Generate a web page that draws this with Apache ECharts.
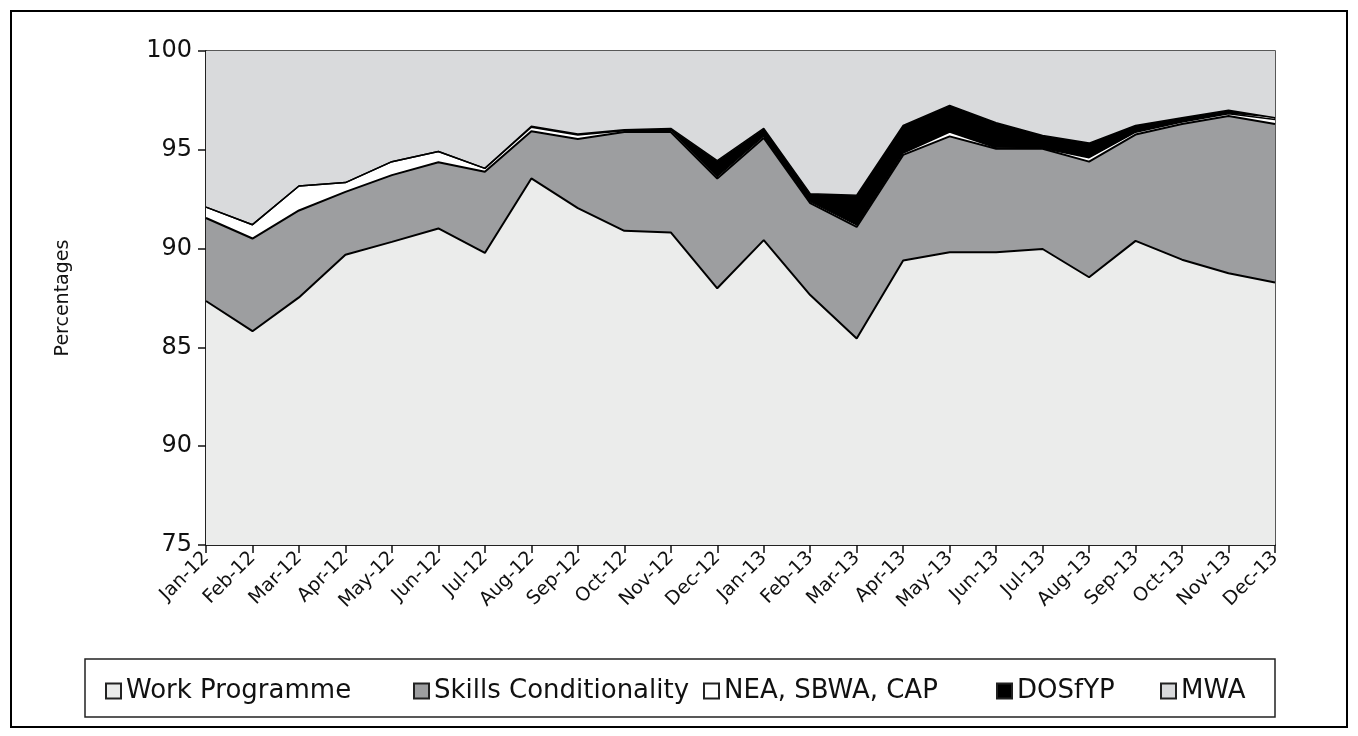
<!DOCTYPE html>
<html>
<head>
<meta charset="utf-8">
<title>Percentages by programme</title>
<script src="https://cdn.jsdelivr.net/npm/echarts@6/dist/echarts.min.js"></script>
<style>
  html, body { margin: 0; padding: 0; background: #fff; }
  #chart { width: 1358px; height: 736px; }
</style>
</head>
<body>
<div id="chart"></div>
<script>
// months on the x axis
var months = ['Jan-12', 'Feb-12', 'Mar-12', 'Apr-12', 'May-12', 'Jun-12', 'Jul-12', 'Aug-12',
  'Sep-12', 'Oct-12', 'Nov-12', 'Dec-12', 'Jan-13', 'Feb-13', 'Mar-13', 'Apr-13', 'May-13',
  'Jun-13', 'Jul-13', 'Aug-13', 'Sep-13', 'Oct-13', 'Nov-13', 'Dec-13']

// stacked percentages (each series is its own slice)
var workProgramme = [87.35, 85.82, 87.53, 89.69, 90.34, 91.02, 89.78, 93.55, 92.05, 90.9, 90.82, 87.99,
  90.43, 87.65, 85.45, 89.4, 89.81, 89.81, 89.98, 88.55, 90.39, 89.44, 88.75, 88.28]
var skills = [4.2, 4.69, 4.4, 3.18, 3.38, 3.35, 4.11, 2.39, 3.5, 5.0, 5.08, 5.56,
  5.17, 4.65, 5.65, 5.34, 5.87, 5.24, 5.07, 5.85, 5.38, 6.87, 7.96, 8.03]
var nea = [0.55, 0.7, 1.24, 0.47, 0.68, 0.54, 0.17, 0.2, 0.2, 0.07, 0.1, 0.1,
  0.1, 0.08, 0.1, 0.1, 0.22, 0.05, 0.03, 0.2, 0.12, 0.1, 0.12, 0.22]
var dosfyp = [0, 0, 0, 0, 0, 0, 0, 0.05, 0.05, 0.05, 0.08, 0.8,
  0.38, 0.4, 1.5, 1.39, 1.35, 1.27, 0.64, 0.74, 0.34, 0.21, 0.17, 0.09]
var mwa = [7.9, 8.79, 6.83, 6.66, 5.6, 5.09, 5.94, 3.81, 4.2, 3.98, 3.92, 5.55,
  3.92, 7.22, 7.3, 3.77, 2.75, 3.63, 4.28, 4.66, 3.77, 3.38, 3.0, 3.38]

// y tick labels as printed on the original (second one really reads 90)
var yTicks = [75, 80, 85, 90, 95, 100]
var yTickLabels = ['75', '90', '85', '90', '95', '100']

var seriesNames = ['Work Programme', 'Skills Conditionality', 'NEA, SBWA, CAP', 'DOSfYP', 'MWA']
var legendLeft = [100, 408, 698, 991, 1155]

var font = '"DejaVu Sans", "Open Sans", sans-serif'

function areaSeries(name, data, fill, lineWidth) {
  return {
    name: name,
    type: 'line',
    stack: 'total',
    data: data,
    symbol: 'none',
    smooth: false,
    lineStyle: { color: '#000', width: lineWidth },
    itemStyle: { color: fill, borderColor: '#222', borderWidth: 1 },
    areaStyle: { color: fill, opacity: 1 },
    animation: false
  }
}

// one legend per item so each sits where it does on the original
var legends = seriesNames.map(function (name, i) {
  return {
    data: [name],
    left: legendLeft[i],
    top: 673,
    icon: 'rect',
    itemWidth: 15,
    itemHeight: 15,
    textStyle: { fontSize: 26, color: '#111', fontFamily: font }
  }
})

var chart = echarts.init(document.getElementById('chart'))
chart.setOption({
  backgroundColor: '#fff',
  textStyle: { fontFamily: font },
  graphic: [
    {
      type: 'rect',
      shape: { x: 11, y: 11, width: 1336, height: 716 },
      style: { fill: 'none', stroke: '#000', lineWidth: 2 },
      z: 100
    },
    {
      type: 'rect',
      shape: { x: 85, y: 659, width: 1190, height: 58 },
      style: { fill: 'none', stroke: '#222', lineWidth: 1.5 },
      z: 100
    }
  ],
  grid: {
    left: 206,
    right: 83,
    top: 51,
    bottom: 191,
    show: true,
    borderColor: '#222',
    borderWidth: 1.5
  },
  legend: legends,
  xAxis: {
    type: 'category',
    data: months,
    boundaryGap: false,
    axisLine: { lineStyle: { color: '#111', width: 1.5 } },
    axisTick: { show: true, length: 8, alignWithLabel: true, lineStyle: { color: '#111', width: 1.5 } },
    axisLabel: {
      interval: 0,
      rotate: 45,
      fontSize: 19,
      color: '#111',
      margin: 10
    },
    splitLine: { show: false }
  },
  yAxis: {
    type: 'value',
    min: 75,
    max: 100,
    interval: 5,
    name: 'Percentages',
    nameLocation: 'middle',
    nameGap: 133,
    nameRotate: 90,
    nameTextStyle: { fontSize: 19, color: '#111', fontFamily: font },
    axisLine: { show: true, lineStyle: { color: '#111', width: 1.5 } },
    axisTick: { show: true, length: 8, lineStyle: { color: '#111', width: 1.5 } },
    axisLabel: {
      fontSize: 24,
      color: '#111',
      margin: 14,
      formatter: function (v) {
        var i = yTicks.indexOf(v)
        return i >= 0 ? yTickLabels[i] : ''
      }
    },
    splitLine: { show: false }
  },
  series: [
    areaSeries(seriesNames[0], workProgramme, '#ebeceb', 2),
    areaSeries(seriesNames[1], skills, '#9d9ea0', 2),
    areaSeries(seriesNames[2], nea, '#ffffff', 1.5),
    areaSeries(seriesNames[3], dosfyp, '#000000', 1.5),
    areaSeries(seriesNames[4], mwa, '#d9dadc', 0)
  ]
})
</script>
</body>
</html>
